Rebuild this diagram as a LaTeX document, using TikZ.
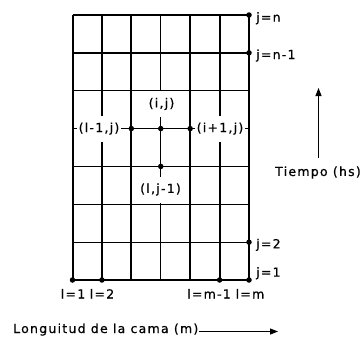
\documentclass[tikz,border=0pt]{standalone}
\usepackage{fontspec}
\setmainfont{DejaVu Sans}[LetterSpace=10,FakeBold=0.7]
\usetikzlibrary{arrows.meta}
\begin{document}
\begin{tikzpicture}[x=1pt,y=-1pt,
  thickline/.style={line width=2pt},
  thinline/.style={line width=1pt},
  dot/.style={circle,fill=black,inner sep=0pt,minimum size=5.5pt},
  lbl/.style={font=\fontsize{12.5}{14}\selectfont,inner sep=0pt},
  ptlbl/.style={lbl,fill=white,inner xsep=2pt,minimum height=26pt},
  arr/.style={line width=1pt,-{Triangle[length=8pt,width=6pt]}}]
\useasboundingbox (0,0) rectangle (363,337);
% grid coordinates
\foreach \i in {0,...,6}{
  \coordinate (t\i) at ({72.5+\i*29.4167},15);
  \coordinate (b\i) at ({72.5+\i*29.4167},280);
}
\foreach \k in {0,...,7}{
  \coordinate (l\k) at (72.5,{280-\k*37.857});
  \coordinate (r\k) at (249,{280-\k*37.857});
}
% horizontal lines
\draw[line width=1.3pt] (l0) -- (r0);
\draw[thinline] (l1) -- (r1);
\draw[line width=1.4pt] (l2) -- (r2);
\draw[thinline] (l3) -- (r3);
\draw[thinline] (l4) -- (r4);
\draw[thinline] (l5) -- (r5);
\draw[thickline] (l6) -- (r6);
\draw[line width=1.3pt] (l7) -- (r7);
% vertical lines
\foreach \i in {0,1,2,4,5,6}{\draw[thickline] (t\i) -- (b\i);}
\draw[thinline] (t3) -- (b3);
% point labels
\node[ptlbl] (pij) at (161.5,104) {(i,j)};
\node[ptlbl] (pim) at (99,128.6) {(l-1,j)};
\node[ptlbl] (pip) at (220,128.6) {(i+1,j)};
\node[ptlbl] (pjm) at (160.5,189.5) {(l,j-1)};
% dots
\node[dot] (d1) at (t2 |- l4) {};
\node[dot] (d2) at (t3 |- l4) {};
\node[dot] (d3) at (t4 |- l4) {};
\node[dot] (d4) at (t3 |- l3) {};
\node[dot] (e0) at (b0) {};
\node[dot] (e1) at (b1) {};
\node[dot] (e5) at (b5) {};
\node[dot] (e6) at (b6) {};
\node[dot] (f1) at (r1) {};
\node[dot] (f6) at (r6) {};
\node[dot] (f7) at (r7) {};
% right labels
\node[lbl,anchor=base west] (jn) at (256,21.7) {j=n};
\node[lbl,anchor=base west] (jn1) at (256,59) {j=n-1};
\node[lbl,anchor=base west] (j2) at (256,248.3) {j=2};
\node[lbl,anchor=base west] (j1) at (256,276.7) {j=1};
% bottom labels
\node[lbl,anchor=base] (i1) at (73,298.5) {l=1};
\node[lbl,anchor=base] (i2) at (102,298.5) {l=2};
\node[lbl,anchor=base east] (im1) at (231,298.5) {l=m-1};
\node[lbl,anchor=base] (im) at (250,298.5) {l=m};
% time axis
\node[lbl] (tiempo) at (318,172.5) {Tiempo (hs)};
\coordinate (ta) at (318.5,158);
\coordinate (tb) at (318.5,88);
\draw[arr] (ta) -- (tb);
% length axis
\node[lbl,anchor=base west] (longitud) at (13,333) {Longuitud de la cama (m)};
\coordinate (la) at ([yshift=1.5pt]longitud.base east);
\coordinate (lb) at (278,331.5);
\draw[arr] (la) -- (lb);
\end{tikzpicture}
\end{document}
